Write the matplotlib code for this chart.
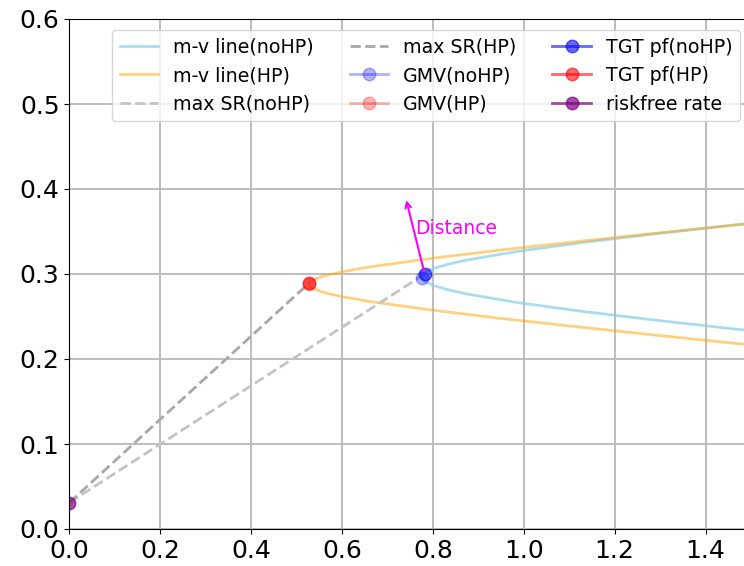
import matplotlib
matplotlib.use('Agg')
import matplotlib.pyplot as plt

# mean-variance frontier (sigma, mean)
nohp_mu = [0.2315, 0.2365, 0.2465, 0.2565, 0.2665, 0.2765, 0.2815, 0.2865, 0.2915,
           0.2940, 0.2965, 0.2990, 0.3015, 0.3065, 0.3115, 0.3165, 0.3265, 0.3365,
           0.3465, 0.3565, 0.3615]
nohp_sigma = [1.530, 1.443, 1.277, 1.122, 0.985, 0.875, 0.833, 0.801, 0.782,
              0.777, 0.775, 0.777, 0.782, 0.801, 0.833, 0.875, 0.985, 1.122,
              1.277, 1.443, 1.530]

hp_mu = [0.213, 0.218, 0.228, 0.238, 0.248, 0.258, 0.268, 0.273, 0.278, 0.283,
         0.2855, 0.288, 0.2905, 0.293, 0.298, 0.303, 0.308, 0.318, 0.328, 0.338,
         0.348, 0.358, 0.363]
hp_sigma = [1.565, 1.473, 1.291, 1.115, 0.946, 0.791, 0.657, 0.604, 0.562, 0.536,
            0.529, 0.527, 0.529, 0.536, 0.562, 0.604, 0.657, 0.791, 0.946, 1.115,
            1.291, 1.473, 1.565]

# special portfolios (sigma, mean)
rf = (0.0, 0.031)
tgt_nohp = (0.782, 0.300)
gmv_nohp = (0.775, 0.295)
tgt_hp = (0.527, 0.289)
gmv_hp = (0.527, 0.288)
arrow_tip = (0.740, 0.390)

fig = plt.figure(figsize=(7.44, 5.66), dpi=100)
ax = fig.add_axes([69.3 / 744, 1 - 529 / 566, (751 - 69.3) / 744, (529 - 19) / 566])

ax.plot(nohp_sigma, nohp_mu, color='skyblue', alpha=0.7, lw=2, label='m-v line(noHP)')
ax.plot(hp_sigma, hp_mu, color='orange', alpha=0.5, lw=2, label='m-v line(HP)')
ax.plot([rf[0], tgt_nohp[0]], [rf[1], tgt_nohp[1]], '--', color='#c4c4c4', lw=2,
        label='max SR(noHP)')
ax.plot([rf[0], tgt_hp[0]], [rf[1], tgt_hp[1]], '--', color='#a8a8a8', lw=2,
        label='max SR(HP)')
ax.plot(gmv_nohp[0], gmv_nohp[1], 'o-', color='blue', alpha=0.3, ms=9, lw=2, label='GMV(noHP)')
ax.plot(gmv_hp[0], gmv_hp[1], 'o-', color='red', alpha=0.3, ms=9, lw=2, label='GMV(HP)')
ax.plot(tgt_nohp[0], tgt_nohp[1], 'o-', color='blue', alpha=0.6, ms=9, lw=2, label='TGT pf(noHP)')
ax.plot(tgt_hp[0], tgt_hp[1], 'o-', color='red', alpha=0.6, ms=9, lw=2, label='TGT pf(HP)')
ax.plot(rf[0], rf[1], 'o-', color='purple', alpha=0.7, ms=9, lw=2, label='riskfree rate')

ax.annotate('', xy=arrow_tip, xytext=tgt_nohp,
            arrowprops=dict(arrowstyle='->', color='magenta', lw=1.5))
ax.text(0.762, 0.354, 'Distance', color='magenta', fontsize=13.5, va='center')

ax.set_xlim(0, 1.5)
ax.set_ylim(0, 0.6)
ax.grid(True, color='#b8b8b8', lw=1.3)
ax.set_axisbelow(True)
ax.tick_params(labelsize=18)

ax.legend(ncol=3, fontsize=13.7, loc='upper right', bbox_to_anchor=(740 / 744, 1 - 30 / 566),
          bbox_transform=fig.transFigure, borderaxespad=0, columnspacing=1.9)

fig.savefig('out.png', dpi=100)
